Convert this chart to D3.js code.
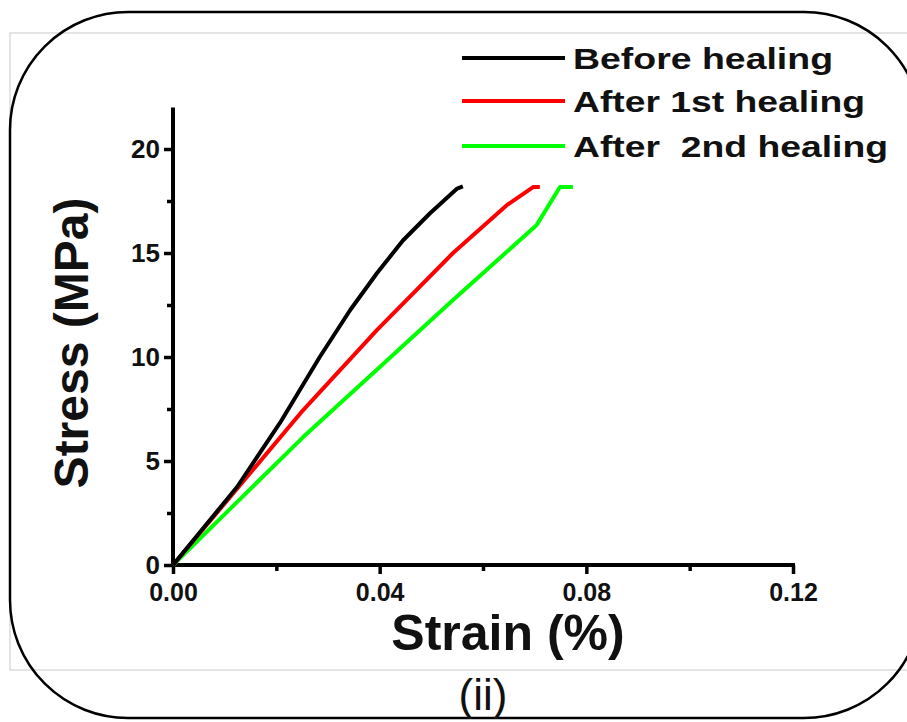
<!DOCTYPE html>
<html>
<head>
<meta charset="utf-8">
<script src="https://cdn.jsdelivr.net/npm/d3@7"></script>
<style>
  html, body { margin: 0; padding: 0; background: #fff; }
  svg { display: block; font-family: "Liberation Sans", Arial, sans-serif; }
</style>
</head>
<body>
<div id="chart"></div>
<script>
// --- DATA ---
const seriesNames = ["Before healing", "After 1st healing", "After  2nd healing"];
const seriesColors = ["#000000", "#ff0000", "#00ff00"];

const strainBefore = [0, 0.0124, 0.0207, 0.0284, 0.0343, 0.0395, 0.0445, 0.0497, 0.0550, 0.0561];
const stressBefore = [0, 3.75, 6.83, 10.0, 12.26, 14.04, 15.6, 16.9, 18.1, 18.2];

const strainFirst = [0, 0.0252, 0.0395, 0.0542, 0.0646, 0.0697, 0.0710];
const stressFirst = [0, 7.45, 11.3, 15.0, 17.3, 18.17, 18.17];

const strainSecond = [0, 0.0252, 0.0395, 0.0542, 0.0704, 0.0749, 0.0774];
const stressSecond = [0, 6.15, 9.4, 12.74, 16.35, 18.17, 18.17];

const xTicks = [0, 0.04, 0.08, 0.12];
const xMinorTicks = [0.02, 0.06, 0.10];
const yTicks = [0, 5, 10, 15, 20];
const yMinorTicks = [2.5, 7.5, 12.5, 17.5];

// --- SETUP ---
const width = 907;
const height = 722;

const svg = d3.select("#chart").append("svg")
    .attr("width", width).attr("height", height);

// outer picture border (grey) and rounded frame (black)
svg.append("rect")
    .attr("x", 10).attr("y", 33)
    .attr("width", 910).attr("height", 637)
    .attr("fill", "none")
    .attr("stroke", "#dcdcdc")
    .attr("stroke-width", 1.5);

svg.append("rect")
    .attr("x", 10).attr("y", 12)
    .attr("width", 912).attr("height", 706)
    .attr("rx", 118).attr("ry", 118)
    .attr("fill", "none")
    .attr("stroke", "#000")
    .attr("stroke-width", 2.5);

// Scales
const xScale = d3.scaleLinear().domain([0, 0.12]).range([173, 793]);
const yScale = d3.scaleLinear().domain([0, 20]).range([565, 149]);

// --- AXES ---
const axisColor = "#000";

// y axis
const yAxis = svg.append("g")
    .attr("transform", `translate(${xScale(0)},0)`)
    .call(d3.axisLeft(yScale).tickValues(yTicks).tickSize(9).tickPadding(4));
yAxis.select(".domain").remove();
yAxis.append("line")
    .attr("x1", 0).attr("x2", 0)
    .attr("y1", yScale(0) + 2).attr("y2", yScale(22))
    .attr("stroke", axisColor).attr("stroke-width", 4);
yAxis.selectAll(".tick line").attr("stroke-width", 3.5);
yAxis.selectAll(".tick text")
    .style("font-size", "26px")
    .style("font-weight", "bold")
    .attr("fill", "#111");

svg.append("g")
    .attr("transform", `translate(${xScale(0)},0)`)
    .call(d3.axisLeft(yScale).tickValues(yMinorTicks).tickSize(6).tickFormat(""))
    .call(g => g.select(".domain").remove())
    .selectAll(".tick line").attr("stroke-width", 3.5);

// x axis
const xAxis = svg.append("g")
    .attr("transform", `translate(0,${yScale(0)})`)
    .call(d3.axisBottom(xScale).tickValues(xTicks).tickSize(9).tickPadding(9)
        .tickFormat(d3.format(".2f")));
xAxis.select(".domain").remove();
xAxis.append("line")
    .attr("x1", xScale(0) - 2).attr("x2", xScale(0.12) + 2)
    .attr("y1", 0).attr("y2", 0)
    .attr("stroke", axisColor).attr("stroke-width", 4);
xAxis.selectAll(".tick line").attr("stroke-width", 3.5);
xAxis.selectAll(".tick text")
    .style("font-size", "25px")
    .style("font-weight", "bold")
    .attr("fill", "#111");

svg.append("g")
    .attr("transform", `translate(0,${yScale(0)})`)
    .call(d3.axisBottom(xScale).tickValues(xMinorTicks).tickSize(6).tickFormat(""))
    .call(g => g.select(".domain").remove())
    .selectAll(".tick line").attr("stroke-width", 3.5);

// axis titles
svg.append("text")
    .attr("transform", `translate(88,343) rotate(-90)`)
    .attr("text-anchor", "middle")
    .style("font-size", "48px")
    .style("font-weight", "bold")
    .attr("fill", "#111")
    .text("Stress (MPa)");

svg.append("text")
    .attr("x", 508).attr("y", 650)
    .attr("text-anchor", "middle")
    .style("font-size", "50px")
    .style("font-weight", "bold")
    .attr("fill", "#111")
    .text("Strain (%)");

// panel label
svg.append("text")
    .attr("x", 483).attr("y", 710)
    .attr("text-anchor", "middle")
    .style("font-size", "44px")
    .attr("fill", "#111")
    .text("(ii)");

// --- LINES ---
const formattedData = [
    { name: seriesNames[0], color: seriesColors[0], values: strainBefore.map((s, i) => ({ strain: s, stress: stressBefore[i] })) },
    { name: seriesNames[1], color: seriesColors[1], values: strainFirst.map((s, i) => ({ strain: s, stress: stressFirst[i] })) },
    { name: seriesNames[2], color: seriesColors[2], values: strainSecond.map((s, i) => ({ strain: s, stress: stressSecond[i] })) }
];

const lineGenerator = d3.line()
    .x(d => xScale(d.strain))
    .y(d => yScale(d.stress));

// draw green first so black stays on top near the origin
svg.selectAll(".line-path")
    .data(formattedData.slice().reverse()).enter().append("path")
    .attr("class", "line-path")
    .attr("fill", "none")
    .attr("stroke-width", 4)
    .attr("stroke-linejoin", "round")
    .attr("d", d => lineGenerator(d.values))
    .attr("stroke", d => d.color);

// --- LEGEND ---
const legendRows = [58, 101, 146];
const legendWidths = [260, 292, 315];

const legend = svg.selectAll(".legend-row")
    .data(formattedData).enter().append("g")
    .attr("class", "legend-row")
    .attr("transform", (d, i) => `translate(0,${legendRows[i]})`);

legend.append("line")
    .attr("x1", 462).attr("x2", 565)
    .attr("y1", 0).attr("y2", 0)
    .attr("stroke-width", 4)
    .attr("stroke", d => d.color);

legend.append("text")
    .attr("x", 573).attr("y", 11)
    .attr("textLength", (d, i) => legendWidths[i])
    .attr("lengthAdjust", "spacingAndGlyphs")
    .style("font-size", "30px")
    .style("font-weight", "bold")
    .style("white-space", "pre")
    .attr("fill", "#111")
    .text(d => d.name);
</script>
</body>
</html>
